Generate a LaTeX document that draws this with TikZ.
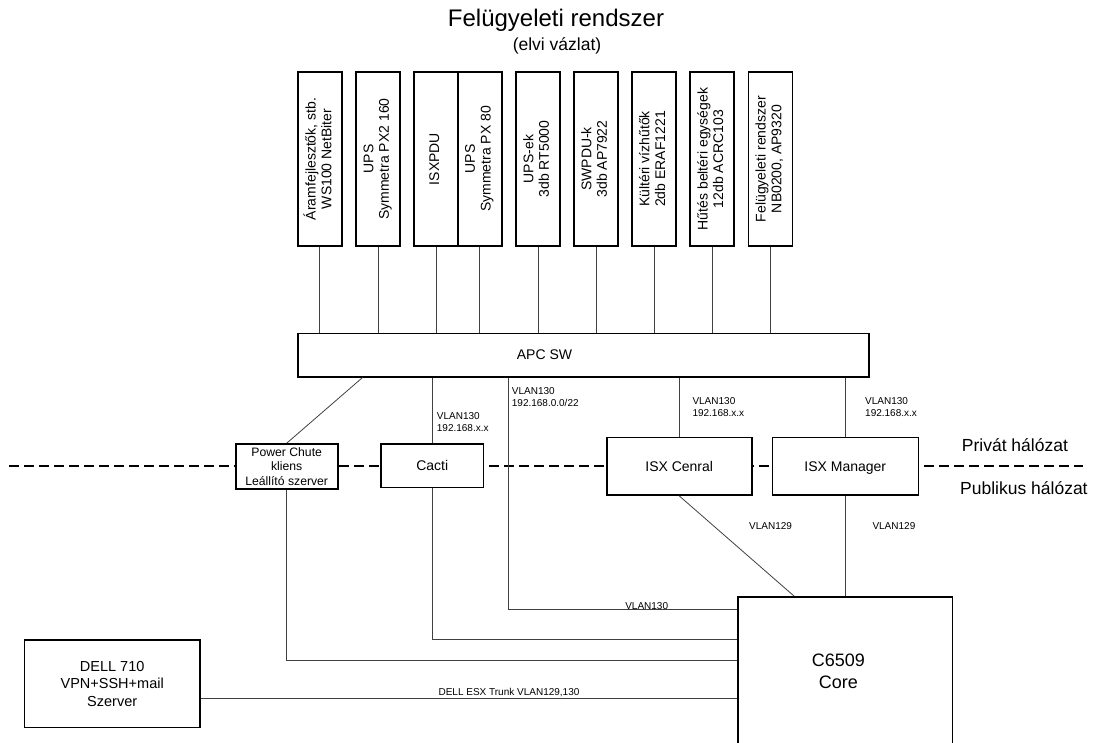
\documentclass[tikz,border=0pt]{standalone}
\usepackage{fontspec}
\setmainfont{Liberation Sans}
\usepackage{graphicx}

\newcommand{\vtext}[1]{\rotatebox{90}{\begin{tabular}{@{}c@{}}#1\end{tabular}}}

\tikzset{
  box/.style={draw, line width=1.6pt, fill=white, inner sep=0pt, align=center},
  devbox/.style={box, minimum width=44pt, minimum height=174pt,
    font=\fontsize{14}{15.7}\selectfont},
  srvbox/.style={box, text depth=0pt, font=\fontsize{14}{16}\selectfont},
  wire/.style={black!75, line width=0.8pt},
  vlan/.style={font=\fontsize{10}{12}\selectfont, inner sep=0pt, align=left},
  zone/.style={anchor=base west, inner sep=0pt, font=\fontsize{17.5}{20}\selectfont},
}

\begin{document}
\begin{tikzpicture}[x=1pt, y=-1pt]

  \useasboundingbox (0, 0) rectangle (1097, 742);
  \clip (0, 0) rectangle (1097, 742);

  % Title
  \node[anchor=base, font=\fontsize{24}{28}\selectfont] (title) at (556, 26.7) {Felügyeleti rendszer};
  \node[anchor=base, font=\fontsize{17.5}{20}\selectfont] (subtitle) at (557, 50) {(elvi vázlat)};

  % Border of private and public network
  \draw[line width=1.8pt, dash pattern=on 10pt off 5pt] (9, 466) -- (1083, 466);
  \node[zone] (privat) at (961.7, 451) {Privát hálózat};
  \node[zone] (publikus) at (960, 494) {Publikus hálózat};

  % Monitored devices
  \node[devbox] (aram) at (319.7, 159) {\vtext{Áramfejlesztők, stb.\\WS100 NetBiter}};
  \node[devbox] (upsa) at (378, 159) {\vtext{UPS\\Symmetra PX2 160}};
  \node[devbox] (isxpdu) at (436, 159) {\vtext{ISXPDU}};
  \node[devbox] (upsb) at (479.7, 159) {\vtext{UPS\\Symmetra PX 80}};
  \node[devbox] (upsek) at (538, 159) {\vtext{UPS-ek\\3db RT5000}};
  \node[devbox] (swpdu) at (596, 159) {\vtext{SWPDU-k\\3db AP7922}};
  \node[devbox] (kulteri) at (654.2, 159) {\vtext{Kültéri vízhűtők\\2db ERAF1221}};
  \node[devbox] (hutes) at (712.2, 159) {\vtext{Hűtés beltéri egységek\\12db ACRC103}};
  \node[devbox] (felugy) at (770.3, 159) {\vtext{Felügyeleti rendszer\\NB0200, AP9320}};

  % APC switch
  \node[box, minimum width=571.3pt, minimum height=43.4pt] (apc) at (583.4, 355) {};
  \node[anchor=base west, inner sep=0pt, font=\fontsize{14}{16}\selectfont] (apctext) at (516.7, 359.3) {APC SW};

  % Wires from the devices to APC SW
  \draw[wire] (aram.south) -- (aram.south |- apc.north);
  \draw[wire] (upsa.south) -- (upsa.south |- apc.north);
  \draw[wire] (isxpdu.south) -- (isxpdu.south |- apc.north);
  \draw[wire] (upsb.south) -- (upsb.south |- apc.north);
  \draw[wire] (upsek.south) -- (upsek.south |- apc.north);
  \draw[wire] (swpdu.south) -- (swpdu.south |- apc.north);
  \draw[wire] (kulteri.south) -- (kulteri.south |- apc.north);
  \draw[wire] (hutes.south) -- (hutes.south |- apc.north);
  \draw[wire] (felugy.south) -- (felugy.south |- apc.north);

  % Servers on the border
  \node[box, minimum width=102pt, minimum height=45pt, font=\fontsize{12.2}{14.5}\selectfont] (pcs) at (286.7, 466.5) {Power Chute\\kliens\\Leállító szerver};
  \node[srvbox, minimum width=102.3pt, minimum height=43.3pt] (cacti) at (432.2, 465.7) {Cacti};
  \node[srvbox, minimum width=145pt, minimum height=57.7pt] (isxc) at (679.2, 466.2) {ISX Cenral};
  \node[srvbox, minimum width=146pt, minimum height=57.7pt] (isxm) at (845.3, 466.2) {ISX Manager};

  % Core switch, its lower edge is out of the picture
  \node[box, minimum width=214.6pt, minimum height=200pt] (core) at (845, 697) {};
  \node[align=center, font=\fontsize{18}{21.7}\selectfont] (coretext) at (838.3, 671) {C6509\\Core};

  % DELL server
  \node[box, minimum width=175.7pt, minimum height=87.7pt, font=\fontsize{14.5}{17.8}\selectfont] (dell) at (112.2, 683.8) {DELL 710\\VPN+SSH+mail\\Szerver};

  % Ends of the wires
  \coordinate (apcpcs) at ([xshift=65.6pt]apc.south west);
  \coordinate (apcnet) at ([xshift=211.3pt]apc.south west);
  \coordinate (isxcout) at ([xshift=73.3pt]isxc.south west);
  \coordinate (dellout) at ([yshift=-14.7pt]dell.east);
  \coordinate (corenet) at ([yshift=-13pt]core.north west);
  \coordinate (corecacti) at ([yshift=-43.3pt]core.north west);
  \coordinate (corepcs) at ([yshift=-64pt]core.north west);
  \coordinate (coreisxc) at ([xshift=57.3pt]core.north west);

  % Wires below APC SW
  \draw[wire] (apcpcs) -- (pcs.north);
  \draw[wire] (cacti.north |- apc.south) -- (cacti.north);
  \draw[wire] (apcnet) |- (corenet);
  \draw[wire] (isxc.north |- apc.south) -- (isxc.north);
  \draw[wire] (isxm.north |- apc.south) -- (isxm.north);

  % Wires to the core
  \draw[wire] (cacti.south) |- (corecacti);
  \draw[wire] (pcs.south) |- (corepcs);
  \draw[wire] (isxcout) -- (coreisxc);
  \draw[wire] (isxm.south) -- (isxm.south |- core.north);
  \draw[wire] (dellout) -- (dellout -| core.west);

  % VLAN labels
  \node[vlan, anchor=west] (lcacti) at (436.7, 422.5) {VLAN130\\192.168.x.x};
  \node[vlan, anchor=west] (lnet) at (511.7, 397) {VLAN130\\192.168.0.0/22};
  \node[vlan, anchor=west] (lisxc) at (692.3, 407) {VLAN130\\192.168.x.x};
  \node[vlan, anchor=west] (lisxm) at (865, 407) {VLAN130\\192.168.x.x};
  \node[vlan, anchor=west] (lvlana) at (749, 526) {VLAN129};
  \node[vlan, anchor=west] (lvlanb) at (872.3, 526) {VLAN129};
  \node[vlan] (lvlanc) at (646.7, 605.7) {VLAN130};
  \node[vlan] (ltrunk) at (509, 692.3) {DELL ESX Trunk VLAN129,130};

\end{tikzpicture}
\end{document}
